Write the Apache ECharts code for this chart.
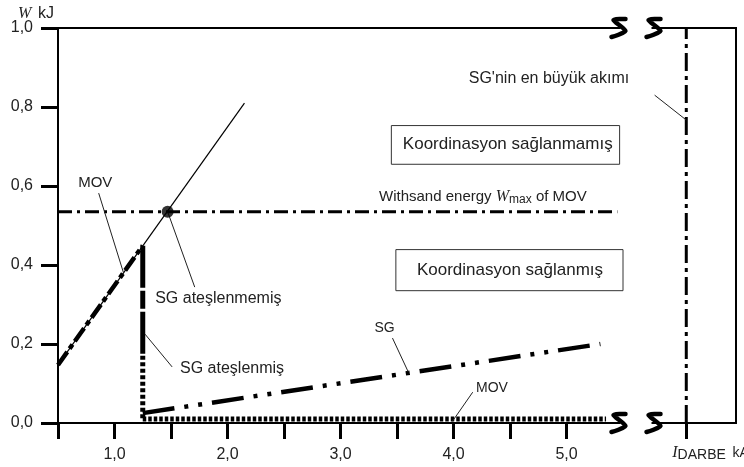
<!DOCTYPE html>
<html><head><meta charset="utf-8">
<script src="https://cdn.jsdelivr.net/npm/echarts@6/dist/echarts.min.js"></script>
<style>html,body{margin:0;padding:0;background:#fff}#c{width:744px;height:467px}</style>
</head><body><div id="c"></div>
<script>
// ---- data ----
const xTickValues = [0.5, 1.0, 1.5, 2.0, 2.5, 3.0, 3.5, 4.0, 4.5, 5.0];
const xLabelValues = [1.0, 2.0, 3.0, 4.0, 5.0];
const yTickValues = [0, 0.2, 0.4, 0.6, 0.8, 1.0];
const iDarbe = 6.06;
const breakValues = [5.46, 5.77];
const movThin = [[0.5, 0.147], [2.15, 0.81]];
const movBold = [[0.5, 0.147], [1.25, 0.449]];
const sgUnfired = [[1.25, 0.449], [1.25, 0.17]];
const sgFired = [[1.25, 0.17], [1.25, 0.012]];
const sgLine = [[1.25, 0.025], [5.3, 0.2]];
const movBottom = [[1.25, 0.01], [5.35, 0.01]];
const wMaxLevel = 0.535;
const wMaxLine = [[0.5, wMaxLevel], [5.45, wMaxLevel]];
const crossPoint = [[1.47, 0.535]];
const iDarbeLine = [[iDarbe, 0], [iDarbe, 1]];

const FONT = '"Liberation Sans", Arial, sans-serif';
const SERIF = '"Liberation Serif", "Times New Roman", serif';
const fmt = v => Number(v).toFixed(1).replace('.', ',');

function ln(data, width, type, color) {
  return {type: 'line', data, symbol: 'none', silent: true, animation: false, z: 3,
    lineStyle: {color: color || '#000', width, type: type || 'solid', cap: 'butt'}};
}

// leader lines (data coordinates)
const leaders = [
  [[0.86, 0.582], [1.08, 0.38]],
  [[1.47, 0.535], [1.71, 0.344]],
  [[1.27, 0.225], [1.51, 0.142]],
  [[3.46, 0.215], [3.60, 0.129]],
  [[4.17, 0.078], [3.99, 0.004]],
  [[5.78, 0.83], [iDarbe, 0.767]]
];

const chart = echarts.init(document.getElementById('c'), null, {renderer: 'canvas'});
const option = {
  animation: false,
  backgroundColor: '#fff',
  grid: {left: 58, right: 8, top: 28, bottom: 44, show: true, borderColor: '#000', borderWidth: 2},
  xAxis: {
    type: 'value', min: 0.5, max: 6.5, interval: 0.5,
    axisLine: {lineStyle: {color: '#000', width: 2}},
    axisTick: {show: true, length: 16, customValues: xTickValues.concat([iDarbe]), lineStyle: {color: '#000', width: 3}},
    axisLabel: {customValues: xLabelValues, formatter: fmt, margin: 24, fontSize: 16, color: '#222', fontFamily: FONT},
    splitLine: {show: false}
  },
  yAxis: {
    type: 'value', min: 0, max: 1, interval: 0.2,
    axisLine: {lineStyle: {color: '#000', width: 2}},
    axisTick: {show: true, length: 17, customValues: yTickValues, lineStyle: {color: '#000', width: 3}},
    axisLabel: {customValues: yTickValues, formatter: fmt, margin: 25, fontSize: 16, color: '#222', fontFamily: FONT},
    splitLine: {show: false}
  },
  series: [
    ln(movThin, 1.2),
    ln(movBold, 4.5, [16, 4, 5, 4]),
    ln(sgUnfired, 5, [42, 3, 18, 3]),
    ln(sgFired, 5, [4, 2.5]),
    ln(sgLine, 4.5, [32, 10, 4, 10, 4, 10]),
    ln(movBottom, 5, [3.5, 2]),
    ln(wMaxLine, 3, [14, 5, 3, 5]),
    ln(iDarbeLine, 3, [18, 5, 4, 5]),
    ...leaders.map(d => ln(d, 1, 'solid', '#222')),
    {type: 'scatter', data: crossPoint, symbol: 'circle', symbolSize: 12, silent: true, z: 5,
      itemStyle: {color: '#000'}}
  ]
};
chart.setOption(option);

const px = (x, y) => chart.convertToPixel({gridIndex: 0}, [x, y]);
function txt(x, y, text, size, align, extra) {
  const p = px(x, y);
  return {type: 'text', x: p[0], y: p[1], z: 50, silent: true,
    style: Object.assign({text, fill: '#222', font: size + 'px ' + FONT,
      align: align || 'center', textAlign: align || 'center', verticalAlign: 'middle', textVerticalAlign: 'middle'}, extra || {})};
}
function box(x0, y0, x1, y1) {
  const a = px(x0, y0), b = px(x1, y1);
  return {type: 'rect', z: 40, silent: true,
    shape: {x: a[0], y: b[1], width: b[0] - a[0], height: a[1] - b[1]},
    style: {fill: '#fff', stroke: '#333', lineWidth: 1}};
}
const graphics = [];
// axis breaks
[0, 1].forEach(yv => {
  const a = px(breakValues[0], yv), b = px(breakValues[1], yv);
  graphics.push({type: 'rect', z: 60, silent: true, shape: {x: a[0] + 2, y: a[1] - 3, width: b[0] - a[0] - 4, height: 6}, style: {fill: '#fff'}});
  breakValues.forEach(bv => {
    const c = px(bv, yv);
    const rel = [[7, -9], [-5, -8], [7, 3], [-7, 9]];
    graphics.push({type: 'polyline', z: 61, silent: true,
      shape: {points: rel.map(r => [c[0] + r[0], c[1] + r[1]]), smooth: 0.25},
      style: {stroke: '#000', lineWidth: 4.5, fill: null, lineCap: 'round', lineJoin: 'round'}});
  });
});
// boxes
graphics.push(box(3.45, 0.655, 5.47, 0.753));
graphics.push(box(3.49, 0.335, 5.5, 0.439));
graphics.push(txt(4.48, 0.705, 'Koordinasyon sağlanmamış', 17));
graphics.push(txt(4.5, 0.387, 'Koordinasyon sağlanmış', 17));
// annotations
graphics.push(txt(0.83, 0.608, 'MOV', 15));
graphics.push(txt(1.36, 0.316, 'SG ateşlenmemiş', 16, 'left'));
graphics.push(txt(1.58, 0.139, 'SG ateşlenmiş', 16, 'left'));
graphics.push(txt(3.39, 0.24, 'SG', 14));
graphics.push(txt(4.34, 0.089, 'MOV', 14));
graphics.push(txt(4.845, 0.871, "SG'nin en büyük akımı", 16));
graphics.push(txt(4.26, 0.572, '{a|Withsand energy }{w|W}{s|max}{a| of MOV}', 15, 'center', {
  rich: {
    a: {fontSize: 15, fontFamily: FONT, fill: '#222', color: '#222'},
    w: {fontSize: 16, fontFamily: SERIF, fontStyle: 'italic', fill: '#222', color: '#222'},
    s: {fontSize: 12, fontFamily: FONT, fill: '#222', color: '#222', padding: [6, 0, 0, 0]}
  }
}));
// axis names
const o = px(0.5, 1.0);
graphics.push({type: 'text', x: o[0] - 40, y: o[1] - 14, z: 50, silent: true,
  style: {text: '{w|W}  {a|kJ}', align: 'left', textAlign: 'left', verticalAlign: 'middle', textVerticalAlign: 'middle',
    rich: {w: {fontSize: 16, fontFamily: SERIF, fontStyle: 'italic', fill: '#222', color: '#222'},
           a: {fontSize: 16, fontFamily: FONT, fill: '#222', color: '#222'}}}});
const d = px(iDarbe, 0);
graphics.push({type: 'text', x: d[0] - 14, y: d[1] + 30, z: 50, silent: true,
  style: {text: '{w|I}{s|DARBE}  {a|kA}', align: 'left', textAlign: 'left', verticalAlign: 'middle', textVerticalAlign: 'middle',
    rich: {w: {fontSize: 16, fontFamily: SERIF, fontStyle: 'italic', fill: '#222', color: '#222'},
           s: {fontSize: 14, fontFamily: FONT, fill: '#222', color: '#222', padding: [5, 0, 0, 0]},
           a: {fontSize: 14, fontFamily: FONT, fill: '#222', color: '#222'}}}});
chart.setOption({graphic: {elements: graphics}});
</script>
</body></html>
